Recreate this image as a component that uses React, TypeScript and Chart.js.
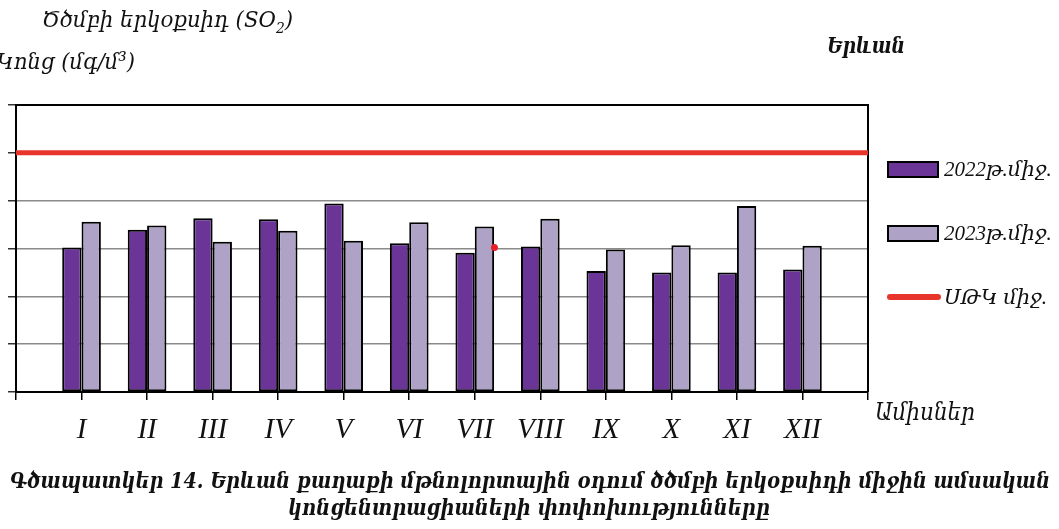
import React, { useEffect, useLayoutEffect, useRef } from 'react';
import { Chart, registerables } from 'chart.js';

Chart.register(...registerables);

const months = ['I', 'II', 'III', 'IV', 'V', 'VI', 'VII', 'VIII', 'IX', 'X', 'XI', 'XII'];
const values2022 = [3.02, 3.39, 3.63, 3.61, 3.94, 3.11, 2.91, 3.04, 2.53, 2.5, 2.5, 2.56];
const values2023 = [3.56, 3.48, 3.14, 3.37, 3.16, 3.55, 3.46, 3.62, 2.98, 3.07, 3.89, 3.06];
const limitValues = [5, 5];
const limitX = [0, 13];
const strayPointX = [7.3];
const strayPointY = [3.02];
const seriesLabels = ['2022թ.միջ.', '2023թ.միջ.', 'ՍԹԿ միջ.'];

const SERIF = '"Liberation Serif", "DejaVu Serif", serif';
const ARM = '"DejaVu Serif", "Liberation Serif", serif';

const plotFrame = {
  id: 'plotFrame',
  beforeDatasetsDraw(chart: any) {
    const { ctx, chartArea } = chart;
    ctx.save();
    ctx.strokeStyle = '#000';
    ctx.lineWidth = 2;
    ctx.beginPath();
    ctx.moveTo(chartArea.left, chartArea.top);
    ctx.lineTo(chartArea.right, chartArea.top);
    ctx.lineTo(chartArea.right, chartArea.bottom);
    ctx.stroke();
    ctx.restore();
  },
};

const sideLegend = {
  id: 'sideLegend',
  afterDraw(chart: any, _args: any, opts: any) {
    const { ctx } = chart;
    const ds = chart.data.datasets;
    ctx.save();
    ctx.font = `italic 21px ${SERIF}`;
    ctx.textBaseline = 'middle';
    opts.rows.forEach((y: number, i: number) => {
      const d = ds[i];
      if (i < 2) {
        ctx.fillStyle = d.backgroundColor;
        ctx.fillRect(opts.x, y - 7, 50, 15);
        ctx.strokeStyle = '#000';
        ctx.lineWidth = 2;
        ctx.strokeRect(opts.x, y - 7, 50, 15);
      } else {
        ctx.strokeStyle = d.borderColor;
        ctx.lineWidth = 6;
        ctx.lineCap = 'round';
        ctx.beginPath();
        ctx.moveTo(opts.x + 2, y);
        ctx.lineTo(opts.x + 50, y);
        ctx.stroke();
      }
      ctx.fillStyle = '#111';
      ctx.fillText(d.label, opts.x + 56, y + 1);
    });
    ctx.restore();
  },
};

function FitText(props: { left: number; top: number; width: number; style: React.CSSProperties; children: React.ReactNode }) {
  const r = useRef<HTMLDivElement | null>(null);
  useLayoutEffect(() => {
    const el = r.current;
    if (!el) return;
    const apply = () => {
      el.style.transform = 'none';
      const w = el.getBoundingClientRect().width;
      if (w > 0) el.style.transform = `scaleX(${props.width / w})`;
    };
    apply();
    if ((document as any).fonts && (document as any).fonts.ready) (document as any).fonts.ready.then(apply);
  }, []);
  return (
    <div
      ref={r}
      style={{
        position: 'absolute',
        left: props.left,
        top: props.top,
        whiteSpace: 'nowrap',
        transformOrigin: '0 0',
        color: '#111',
        fontStyle: 'italic',
        lineHeight: 1,
        fontFamily: ARM,
        ...props.style,
      }}
    >
      {props.children}
    </div>
  );
}

export default function App() {
  const ref = useRef<HTMLCanvasElement | null>(null);

  useEffect(() => {
    document.body.style.margin = '0';
    const canvas = ref.current;
    if (!canvas) return;
    const chart = new Chart(canvas, {
      type: 'bar',
      data: {
        datasets: [
          {
            type: 'bar',
            label: seriesLabels[0],
            data: values2022.map((v, i) => ({ x: i + 1, y: v })),
            backgroundColor: '#6a3597',
            borderColor: '#000',
            borderWidth: 2,
            borderSkipped: false,
            categoryPercentage: 0.59,
            barPercentage: 1,
            order: 2,
          },
          {
            type: 'bar',
            label: seriesLabels[1],
            data: values2023.map((v, i) => ({ x: i + 1, y: v })),
            backgroundColor: '#afa2c7',
            borderColor: '#000',
            borderWidth: 2,
            borderSkipped: false,
            categoryPercentage: 0.59,
            barPercentage: 1,
            order: 2,
          },
          {
            type: 'line',
            label: seriesLabels[2],
            data: limitX.map((x, i) => ({ x, y: limitValues[i] })),
            borderColor: '#e8352b',
            borderWidth: 5,
            pointRadius: 0,
            fill: false,
            order: 1,
          },
          {
            type: 'line',
            label: '',
            data: strayPointX.map((x, i) => ({ x, y: strayPointY[i] })),
            showLine: false,
            pointRadius: 3.5,
            pointBackgroundColor: '#e8202a',
            pointBorderWidth: 0,
            borderColor: '#e8202a',
            order: 0,
          },
        ],
      } as any,
      options: {
        animation: false,
        responsive: false,
        maintainAspectRatio: false,
        layout: { padding: { top: 105, right: 191, left: 0, bottom: 0 } },
        plugins: {
          legend: { display: false },
          tooltip: { enabled: false },
          title: { display: false },
          sideLegend: { x: 888, rows: [169, 233, 297] },
        } as any,
        scales: {
          x: {
            type: 'linear',
            min: 0,
            max: 13,
            offset: false,
            afterFit: (s: any) => {
              s.height = 137;
            },
            grid: {
              offset: false,
              drawOnChartArea: false,
              drawTicks: true,
              tickLength: 8,
              color: '#000',
              lineWidth: 1.5,
            },
            border: { display: true, color: '#000', width: 2 },
            ticks: {
              stepSize: 1,
              autoSkip: false,
              maxRotation: 0,
              padding: 13,
              color: '#111',
              font: { family: SERIF, size: 29, style: 'italic' },
              callback: (v: any) => (Number.isInteger(v) && v >= 1 && v <= 12 ? months[v - 1] : ''),
            },
          },
          y: {
            min: 0,
            max: 6,
            afterFit: (s: any) => {
              s.width = 16;
            },
            grid: {
              color: '#8a8a8a',
              lineWidth: 1.5,
              drawTicks: true,
              tickLength: 8,
              tickColor: '#333',
            },
            border: { display: true, color: '#000', width: 2 },
            ticks: { stepSize: 1, display: false },
          },
        } as any,
      },
      plugins: [plotFrame, sideLegend],
    });
    return () => chart.destroy();
  }, []);

  return (
    <div style={{ position: 'fixed', left: 0, top: 0, width: 1059, height: 529, background: '#fff', overflow: 'hidden' }}>
      <canvas ref={ref} width={1059} height={529} style={{ display: 'block', width: 1059, height: 529 }} />
      <FitText left={42} top={8} width={251} style={{ fontSize: 23 }}>
        Ծծմբի երկօքսիդ (SO<sub style={{ fontSize: 15 }}>2</sub>)
      </FitText>
      <FitText left={-3} top={50} width={138} style={{ fontSize: 23 }}>
        Կոնց (մգ/մ³)
      </FitText>
      <FitText left={827} top={34} width={78} style={{ fontSize: 22, fontWeight: 'bold' }}>
        Երևան
      </FitText>
      <FitText left={875} top={400} width={100} style={{ fontSize: 24 }}>
        Ամիսներ
      </FitText>
      <FitText left={10} top={468} width={1040} style={{ fontSize: 23, fontWeight: 'bold' }}>
        Գծապատկեր 14. Երևան քաղաքի մթնոլորտային օդում ծծմբի երկօքսիդի միջին ամսական
      </FitText>
      <FitText left={288} top={495} width={482} style={{ fontSize: 23, fontWeight: 'bold' }}>
        կոնցենտրացիաների փոփոխությունները
      </FitText>
    </div>
  );
}
